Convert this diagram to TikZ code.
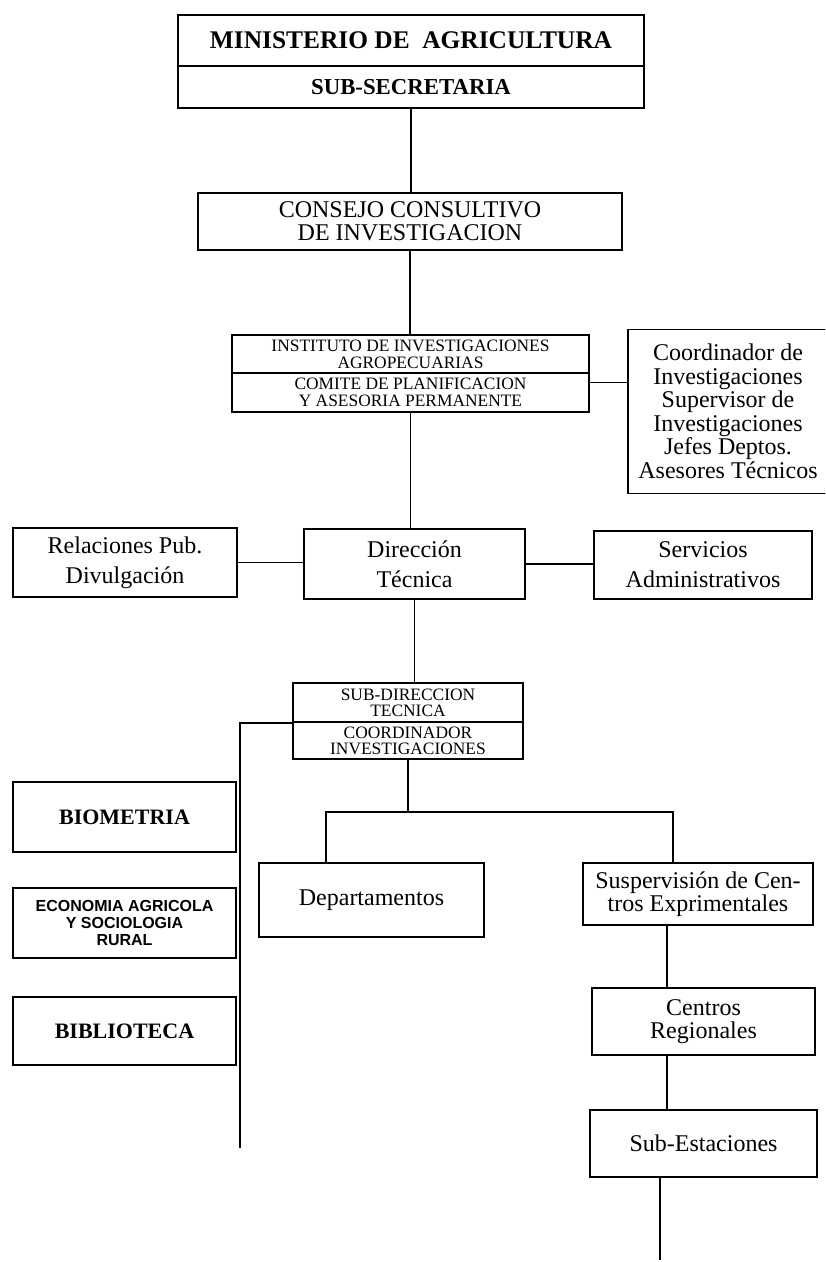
\documentclass[tikz,border=0pt]{standalone}
\usepackage{fontspec}
\setmainfont{Liberation Serif}
\newfontfamily\helv{Liberation Sans}
\usetikzlibrary{calc}

\begin{document}
\begin{tikzpicture}[x=0.5pt, y=-0.5pt]
	\tikzstyle{box} = [draw, rectangle, line width=0.9pt, inner sep=0pt, align=center, font={\fontsize{12}{15}\selectfont}];
	\tikzstyle{caps} = [box, font={\fontsize{8.7}{8.5}\selectfont}];
	\tikzstyle{side} = [box, minimum width=111.5pt, minimum height=35pt];
	\tikzstyle{link} = [line width=0.9pt];

	\useasboundingbox (0,0) rectangle (825,1262);
	\clip (0,0) rectangle (825,1262);

	% ministerio
	\node[box, minimum width=233pt, minimum height=25.5pt, font={\fontsize{12.7}{14}\selectfont\bfseries}] (min) at (411,40.5) {MINISTERIO DE\ \ AGRICULTURA};
	\node[box, minimum width=233pt, minimum height=21pt, font={\fontsize{11.4}{14}\selectfont\bfseries}] (subsec) at (411,87) {SUB-SECRETARIA};

	\node[box, minimum width=212pt, minimum height=28.5pt, font={\fontsize{12}{11.5}\selectfont}] (cons) at (410,221.5) {CONSEJO CONSULTIVO\\DE INVESTIGACION};

	\node[caps, minimum width=178.5pt, minimum height=19pt] (instA) at (410.5,354) {INSTITUTO DE INVESTIGACIONES\\AGROPECUARIAS};
	\node[caps, minimum width=178.5pt, minimum height=19.5pt] (instB) at (410.5,392.5) {COMITE DE PLANIFICACION\\Y ASESORIA PERMANENTE};

	% open on the right, cut by the page
	\node[align=center, inner sep=0pt, minimum width=100pt, minimum height=81.5pt, font={\fontsize{12}{11.75}\selectfont}] (coord) at (728,411.5) {Coordinador de\\Investigaciones\\Supervisor de\\Investigaciones\\Jefes Deptos.\\Asesores Técnicos};
	\draw[link] ([xshift=20pt]coord.north east) -- (coord.north west) -- (coord.south west) -- ([xshift=20pt]coord.south east);

	% direccion
	\node[box, minimum width=112pt, minimum height=34.5pt] (rel) at (125,562.5) {Relaciones Pub.\\Divulgación};
	\node[box, minimum width=110.5pt, minimum height=35pt] (dir) at (414.5,564) {Dirección\\Técnica};
	\node[box, minimum width=109pt, minimum height=34pt] (serv) at (703,565) {Servicios\\Administrativos};

	\node[caps, minimum width=115pt, minimum height=19.5pt, font={\fontsize{8.7}{8}\selectfont}] (subA) at (408,702.5) {SUB-DIRECCION\\TECNICA};
	\node[caps, minimum width=115pt, minimum height=18.5pt, font={\fontsize{8.7}{8}\selectfont}] (subB) at (408,740.5) {COORDINADOR\\INVESTIGACIONES};

	% left column
	\node[side, font={\fontsize{11}{13}\selectfont\bfseries}] (bio) at (124.5,817) {BIOMETRIA};
	\node[side, font={\fontsize{8}{8.5}\selectfont\helv\bfseries}] (eco) at (124.5,923) {ECONOMIA AGRICOLA\\Y SOCIOLOGIA\\RURAL};
	\node[side, minimum height=34pt, font={\fontsize{11}{13}\selectfont\bfseries}] (bib) at (124.5,1031) {BIBLIOTECA};

	% departamentos and centros
	\node[box, minimum width=112.5pt, minimum height=37pt] (dep) at (371.5,900) {Departamentos};
	\node[box, minimum width=115pt, minimum height=31pt, font={\fontsize{12}{11.5}\selectfont}] (supv) at (698,894) {Suspervisión de Cen-\\tros Exprimentales};
	\node[box, minimum width=111.5pt, minimum height=33.5pt, font={\fontsize{12}{11.5}\selectfont}] (cent) at (703.5,1021.5) {Centros\\Regionales};
	\node[box, minimum width=113.5pt, minimum height=33.5pt] (subest) at (703.5,1143.5) {Sub-Estaciones};

	\coordinate (lbus) at (240,1148);
	\coordinate (busL) at (326,812);
	\coordinate (busR) at (673,812);
	\coordinate (rx) at (667,1000);
	\coordinate (endS) at (660,1260);

	\draw[link] (subsec.south) -- (subsec.south |- cons.north);
	\draw[link] (cons.south) -- (cons.south |- instA.north);
	\draw[link] ([yshift=5pt]instB.east) -- ([yshift=5pt]instB.east -| coord.west);
	\draw[link] (instB.south) -- (instB.south |- dir.north);
	\draw[link] (rel.east) -- (rel.east -| dir.west);
	\draw[link] (dir.east) -- (dir.east -| serv.west);
	\draw[link] (dir.south) -- (dir.south |- subA.north);
	\draw[link] (subA.south west) -| (lbus);
	\draw[link] (subB.south) -- (subB.south |- busL);
	\draw[link] (dep.north -| busL) -- (busL) -- (busR) -- (busR |- supv.north);
	\draw[link] (supv.south -| rx) -- (rx |- cent.north);
	\draw[link] (cent.south -| rx) -- (rx |- subest.north);
	\draw[link] (subest.south -| endS) -- (endS);
\end{tikzpicture}
\end{document}
